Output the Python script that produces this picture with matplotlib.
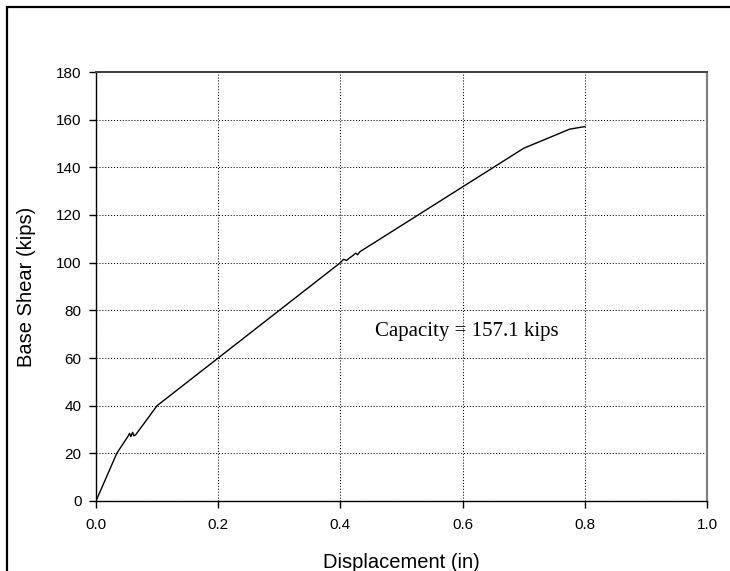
import matplotlib
matplotlib.use("Agg")
import matplotlib.pyplot as plt
from matplotlib.patches import Rectangle

# Data
displacement = [0.0, 0.034, 0.052, 0.055, 0.057, 0.060, 0.062, 0.065, 0.100,
                0.200, 0.400, 0.405, 0.410, 0.415, 0.420, 0.425, 0.428, 0.432,
                0.700, 0.775, 0.800]
base_shear = [0.0, 20.0, 27.0, 28.4, 27.0, 28.8, 27.3, 27.8, 40.0,
              60.0, 100.0, 101.4, 100.9, 102.0, 102.9, 104.0, 103.3, 104.6,
              148.0, 156.0, 157.1]
x_ticks = [0.0, 0.2, 0.4, 0.6, 0.8, 1.0]
y_ticks = [0, 20, 40, 60, 80, 100, 120, 140, 160, 180]
annotation = "Capacity = 157.1 kips"
x_label = "Displacement (in)"
y_label = "Base Shear (kips)"

W, H = 730, 571
fig = plt.figure(figsize=(W / 100, H / 100), dpi=100)
fig.patch.set_facecolor("white")

# outer frame (left/top visible, right/bottom cropped)
fig.patches.append(Rectangle((7 / W, -0.2), 2.0, 1 - 7 / H + 0.2,
                             transform=fig.transFigure, fill=False,
                             edgecolor="black", linewidth=1.6))

ax = fig.add_axes([96 / W, 1 - 501 / H, (707 - 96) / W, (501 - 72) / H])
ax.plot(displacement, base_shear, color="black", linewidth=1.0)

ax.set_xlim(0, 1.0)
ax.set_ylim(0, 180)
ax.set_xticks(x_ticks)
ax.set_xticklabels([f"{v:.1f}" for v in x_ticks])
ax.set_yticks(y_ticks)
ax.set_yticklabels([str(v) for v in y_ticks])

ax.grid(True, color="black", linewidth=0.75, linestyle=(0, (1, 1.8)))
ax.set_axisbelow(True)

for s in ["left", "bottom"]:
    ax.spines[s].set_color("black")
    ax.spines[s].set_linewidth(1.0)
ax.spines["top"].set_color("#404040")
ax.spines["top"].set_linewidth(1.4)
ax.spines["right"].set_color("#808080")
ax.spines["right"].set_linewidth(1.6)

tick_font = "Liberation Sans"
ax.tick_params(axis="x", direction="out", length=5, width=1.0,
               labelsize=11, pad=7, colors="black")
ax.tick_params(axis="y", direction="out", length=5, width=1.0,
               labelsize=11, pad=5.5, colors="black")
for lab in ax.get_xticklabels() + ax.get_yticklabels():
    lab.set_fontfamily(tick_font)

ax.set_xlabel(x_label, fontsize=14.5, fontfamily=tick_font, labelpad=15)
ax.set_ylabel(y_label, fontsize=14.5, fontfamily=tick_font, labelpad=14)

ax.text(0.457, 71, annotation, fontsize=15, fontfamily="Liberation Serif",
        ha="left", va="center")

fig.savefig("out.png", dpi=100)
